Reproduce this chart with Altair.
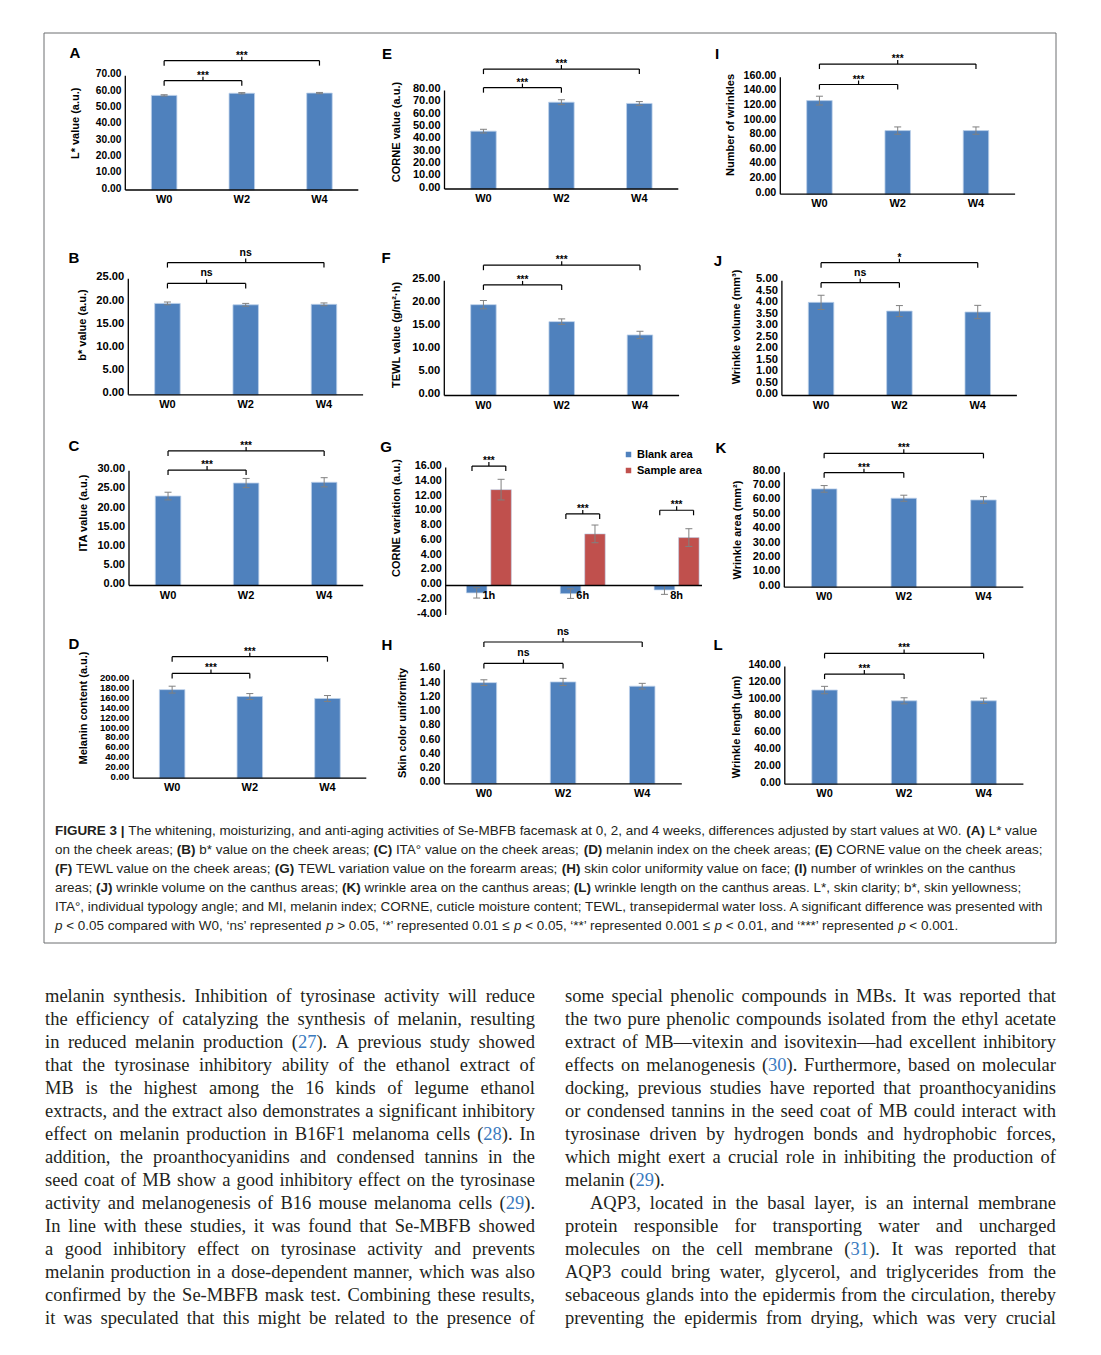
import re
import altair as alt
import pandas as pd

# ---------------- data ----------------
WEEKS = ["W0", "W2", "W4"]
HOURS = ["1h", "6h", "8h"]
GROUPS = ["Blank area", "Sample area"]
PAIRS = [(0, 1), (0, 2)]          # W0-W2 (inner bracket), W0-W4 (outer bracket)

A_mean = [58.0, 59.3, 59.4]; A_err = [0.4, 0.4, 0.4]; A_sig = ["***", "***"]; A_lev = [67.0, 79.3]
B_mean = [19.7, 19.4, 19.5]; B_err = [0.3, 0.3, 0.3]; B_sig = ["ns", "ns"]; B_lev = [24.0, 28.5]
C_mean = [23.4, 26.8, 27.0]; C_err = [1.0, 1.2, 1.2]; C_sig = ["***", "***"]; C_lev = [30.2, 35.2]
D_mean = [180.0, 166.0, 162.0]; D_err = [7.0, 6.0, 6.0]; D_sig = ["***", "***"]; D_lev = [213.0, 247.0]
E_mean = [47.0, 70.5, 69.5]; E_err = [1.5, 2.0, 1.5]; E_sig = ["***", "***"]; E_lev = [82.3, 97.4]
F_mean = [19.8, 16.1, 13.2]; F_err = [0.9, 0.6, 0.8]; F_sig = ["***", "***"]; F_lev = [24.1, 28.4]
G_blank = [-1.0, -1.1, -0.6]; G_blank_err = [0.7, 0.65, 0.6]
G_sample = [13.0, 7.0, 6.5]; G_sample_err = [1.4, 1.2, 1.2]
G_sig = ["***", "***", "***"]; G_lev = [16.2, 9.7, 10.2]
H_mean = [1.42, 1.43, 1.37]; H_err = [0.04, 0.05, 0.04]; H_sig = ["ns", "ns"]; H_lev = [1.69, 1.99]
I_mean = [128.0, 87.0, 87.0]; I_err = [6.0, 5.0, 5.0]; I_sig = ["***", "***"]; I_lev = [150.0, 178.0]
J_mean = [4.06, 3.68, 3.64]; J_err = [0.31, 0.24, 0.29]; J_sig = ["ns", "*"]; J_lev = [4.92, 5.79]
K_mean = [68.4, 61.9, 60.7]; K_err = [2.3, 2.1, 2.3]; K_sig = ["***", "***"]; K_lev = [79.7, 93.1]
L_mean = [112.0, 99.2, 99.2]; L_err = [4.4, 3.6, 3.2]; L_sig = ["***", "***"]; L_lev = [131.0, 155.6]

Y_TITLES = {
    "A": "L* value (a.u.)", "B": "b* value (a.u.)", "C": "ITA value (a.u.)",
    "D": "Melanin content (a.u.)", "E": "CORNE value (a.u.)", "F": "TEWL value (g/m\u00b2\u00b7h)",
    "G": "CORNE variation (a.u.)", "H": "Skin color uniformity", "I": "Number of wrinkles",
    "J": "Wrinkle volume (mm\u00b3)", "K": "Wrinkle area (mm\u00b2)", "L": "Wrinkle length (\u03bcm)",
}

# caption: ⟦...⟧ = bold, ⟨...⟩ = italic
CAPTION = [
    "⟦FIGURE 3 |⟧ The whitening, moisturizing, and anti-aging activities of Se-MBFB facemask at 0, 2, and 4 weeks, differences adjusted by start values at W0. ⟦(A)⟧ L* value",
    "on the cheek areas; ⟦(B)⟧ b* value on the cheek areas; ⟦(C)⟧ ITA\u00b0 value on the cheek areas; ⟦(D)⟧ melanin index on the cheek areas; ⟦(E)⟧ CORNE value on the cheek areas;",
    "⟦(F)⟧ TEWL value on the cheek areas; ⟦(G)⟧ TEWL variation value on the forearm areas; ⟦(H)⟧ skin color uniformity value on face; ⟦(I)⟧ number of wrinkles on the canthus",
    "areas; ⟦(J)⟧ wrinkle volume on the canthus areas; ⟦(K)⟧ wrinkle area on the canthus areas; ⟦(L)⟧ wrinkle length on the canthus areas. L*, skin clarity; b*, skin yellowness;",
    "ITA\u00b0, individual typology angle; and MI, melanin index; CORNE, cuticle moisture content; TEWL, transepidermal water loss. A significant difference was presented with",
    "⟨p⟩ < 0.05 compared with W0, \u2018ns\u2019 represented ⟨p⟩ > 0.05, \u2018*\u2019 represented 0.01 \u2264 ⟨p⟩ < 0.05, \u2018**\u2019 represented 0.001 \u2264 ⟨p⟩ < 0.01, and \u2018***\u2019 represented ⟨p⟩ < 0.001.",
]
BODY_LEFT = [
    "melanin synthesis. Inhibition of tyrosinase activity will reduce",
    "the efficiency of catalyzing the synthesis of melanin, resulting",
    "in reduced melanin production (27). A previous study showed",
    "that the tyrosinase inhibitory ability of the ethanol extract of",
    "MB is the highest among the 16 kinds of legume ethanol",
    "extracts, and the extract also demonstrates a significant inhibitory",
    "effect on melanin production in B16F1 melanoma cells (28). In",
    "addition, the proanthocyanidins and condensed tannins in the",
    "seed coat of MB show a good inhibitory effect on the tyrosinase",
    "activity and melanogenesis of B16 mouse melanoma cells (29).",
    "In line with these studies, it was found that Se-MBFB showed",
    "a good inhibitory effect on tyrosinase activity and prevents",
    "melanin production in a dose-dependent manner, which was also",
    "confirmed by the Se-MBFB mask test. Combining these results,",
    "it was speculated that this might be related to the presence of",
]
BODY_RIGHT = [
    "some special phenolic compounds in MBs. It was reported that",
    "the two pure phenolic compounds isolated from the ethyl acetate",
    "extract of MB\u2014vitexin and isovitexin\u2014had excellent inhibitory",
    "effects on melanogenesis (30). Furthermore, based on molecular",
    "docking, previous studies have reported that proanthocyanidins",
    "or condensed tannins in the seed coat of MB could interact with",
    "tyrosinase driven by hydrogen bonds and hydrophobic forces,",
    "which might exert a crucial role in inhibiting the production of",
    "melanin (29).",
    "AQP3, located in the basal layer, is an internal membrane",
    "protein responsible for transporting water and uncharged",
    "molecules on the cell membrane (31). It was reported that",
    "AQP3 could bring water, glycerol, and triglycerides from the",
    "sebaceous glands into the epidermis from the circulation, thereby",
    "preventing the epidermis from drying, which was very crucial",
]
BODY_RIGHT_RAGGED = [8]      # paragraph end
BODY_RIGHT_INDENT = [9]      # paragraph start

# ---------------- layout / style ----------------
FONT = "Liberation Sans"
SERIF = "Liberation Serif"
BLUE = "#4F81BD"
RED = "#C0504D"
EDGE = "#BCD0EA"
GRAY = "#808080"
INK = "#000000"
TXT = "#231F20"
CITE_BLUE = "#3B7BBF"
W, H = 1085, 1339
M = 8


def px(v):
    return v - M


LAYOUT = {
    "A": dict(letter=(75, 53), xr=(120.3, 363.3), yr=(190.0, 75.8), yd=(0, 70), step=10, title=(75.7, 123.3), fs=10.2),
    "B": dict(letter=(74, 258), xr=(123.3, 368.1), yr=(394.8, 278.8), yd=(0, 25), step=5, title=(83.3, 325), fs=11.2),
    "C": dict(letter=(74, 446), xr=(124.0, 368.2), yr=(585.5, 470.8), yd=(0, 30), step=5, title=(84, 513), fs=11.0),
    "D": dict(letter=(74, 644), xr=(128.3, 371.3), yr=(778.2, 679.8), yd=(0, 200), step=20, title=(84, 708), fs=9.6),
    "E": dict(letter=(387, 54), xr=(439.5, 683.3), yr=(189.0, 90.5), yd=(0, 80), step=10, title=(397.3, 132), fs=11.0),
    "F": dict(letter=(386, 258), xr=(439.3, 684.1), yr=(395.5, 280.8), yd=(0, 25), step=5, title=(396.7, 335), fs=11.2),
    "G": dict(letter=(386, 447), xr=(440.7, 707.0), xd=(-0.46, 2.27), yr=(615.0, 467.5), yd=(-4, 16),
              step=2, title=(397.3, 518), fs=10.8),
    "H": dict(letter=(387, 645), xr=(439.3, 686.8), yr=(783.8, 669.8), yd=(0, 1.6), step=0.2, title=(403, 723), fs=10.6),
    "I": dict(letter=(717, 54), xr=(775.3, 1020.1), yr=(194.2, 77.2), yd=(0, 160), step=20, title=(730.7, 125), fs=10.7),
    "J": dict(letter=(718, 261), xr=(776.9, 1021.9), yr=(395.5, 280.8), yd=(0, 5), step=0.5, title=(737.3, 327), fs=11.2),
    "K": dict(letter=(721, 448), xr=(779.3, 1028.3), yr=(587.2, 472.2), yd=(0, 80), step=10, title=(738.3, 530), fs=11.0),
    "L": dict(letter=(718, 645), xr=(779.8, 1028.4), yr=(784.2, 666.5), yd=(0, 140), step=20, title=(737.3, 727), fs=10.6),
}

# approximate advance widths (1/1000 em) used to lay out running text
TIMES = dict(zip("abcdefghijklmnopqrstuvwxyz",
                 [444, 500, 444, 500, 444, 333, 500, 500, 278, 278, 500, 278, 778, 500, 500, 500, 500, 333, 389,
                  278, 500, 500, 722, 500, 500, 444]))
TIMES.update(zip("ABCDEFGHIJKLMNOPQRSTUVWXYZ",
                 [722, 667, 667, 722, 611, 556, 722, 722, 333, 389, 722, 611, 889, 722, 722, 556, 722, 667, 556,
                  611, 722, 722, 944, 722, 722, 611]))
TIMES.update({c: 500 for c in "0123456789"})
TIMES.update({" ": 250, ",": 250, ".": 250, ";": 278, ":": 278, "(": 333, ")": 333, "-": 333, "\u2014": 1000})

HELV = dict(zip("abcdefghijklmnopqrstuvwxyz",
                [556, 556, 500, 556, 556, 278, 556, 556, 222, 222, 500, 222, 833, 556, 556, 556, 556, 333, 500,
                 278, 556, 500, 722, 500, 500, 500]))
HELV.update(zip("ABCDEFGHIJKLMNOPQRSTUVWXYZ",
                [667, 667, 722, 722, 667, 611, 778, 722, 278, 500, 667, 556, 833, 722, 778, 667, 778, 722, 667,
                 611, 722, 667, 944, 667, 667, 611]))
HELV.update({c: 556 for c in "0123456789"})
HELV.update({" ": 278, ",": 278, ".": 278, ";": 278, ":": 278, "(": 333, ")": 333, "-": 333, "*": 389,
             "<": 584, ">": 584, "\u2264": 549, "\u00b0": 400, "\u2018": 222, "\u2019": 222, "|": 260})
HELVB = dict(HELV)
HELVB.update(zip("ABCDEFGHIJKLMNOPQRSTUVWXYZ",
                 [722, 722, 722, 722, 667, 611, 778, 722, 278, 556, 722, 611, 833, 722, 778, 667, 778, 722, 667,
                  611, 722, 667, 944, 667, 667, 611]))
HELVB.update({"|": 280})


def text_width(s, table, size):
    return sum(table.get(ch, 500) for ch in s) / 1000.0 * size


def tick_values(lo, hi, step):
    n = int(round((hi - lo) / step))
    return [round(lo + k * step, 4) for k in range(n + 1)]


def scales(L, n):
    xd = L.get("xd", (-0.5, n - 0.5))
    xs = alt.Scale(domain=list(xd), range=[px(L["xr"][0]), px(L["xr"][1])], nice=False, zero=False)
    ys = alt.Scale(domain=list(L["yd"]), range=[px(L["yr"][0]), px(L["yr"][1])], nice=False, zero=False)
    return xs, ys, xd


def axis_layers(key, L, cats, xs, ys, xd):
    X = lambda f: alt.X(f, scale=xs, axis=None)
    Y = lambda f: alt.Y(f, scale=ys, axis=None)
    ticks = tick_values(L["yd"][0], L["yd"][1], L["step"])
    ylab = alt.Chart(pd.DataFrame({"v": ticks, "x0": [xd[0]] * len(ticks)})).transform_calculate(
        lab="replace(format(datum.v, '.2f'), '\u2212', '-')").mark_text(
        font=FONT, fontSize=L["fs"], fontWeight="bold", align="right", baseline="middle", dx=-4, dy=-1.5,
        color=INK).encode(x=X("x0:Q"), y=Y("v:Q"), text="lab:N")
    ydom = alt.Chart(pd.DataFrame({"x0": [xd[0]], "lo": [L["yd"][0]], "hi": [L["yd"][1]]})).mark_rule(
        color=INK, strokeWidth=1.3).encode(x=X("x0:Q"), y=Y("lo:Q"), y2="hi:Q")
    xdom = alt.Chart(pd.DataFrame({"a": [xd[0]], "b": [xd[1]], "z": [0]})).mark_rule(
        color=INK, strokeWidth=1.3).encode(x=X("a:Q"), x2="b:Q", y=Y("z:Q"))
    xlab = alt.Chart(pd.DataFrame({"i": list(range(len(cats))), "c": cats, "z": [0] * len(cats)})).mark_text(
        font=FONT, fontSize=11, fontWeight="bold", align="center", baseline="top", dy=4, color=INK).encode(
        x=X("i:Q"), y=Y("z:Q"), text="c:N")
    one = pd.DataFrame({"t": [Y_TITLES[key]]})
    ytitle = alt.Chart(one).mark_text(font=FONT, fontSize=11, fontWeight="bold", angle=270, align="center",
                                      baseline="middle", color=INK).encode(
        x=alt.value(px(L["title"][0])), y=alt.value(px(L["title"][1])), text="t:N")
    letter = alt.Chart(pd.DataFrame({"t": [key]})).mark_text(
        font=FONT, fontSize=15, fontWeight="bold", align="center", baseline="middle", color=INK).encode(
        x=alt.value(px(L["letter"][0])), y=alt.value(px(L["letter"][1])), text="t:N")
    return [ydom, xdom, ylab, xlab, ytitle, letter]


def bracket_layers(bdf, xs, ys):
    bb = alt.Chart(bdf)
    X = lambda f: alt.X(f, scale=xs, axis=None)
    Y = lambda f: alt.Y(f, scale=ys, axis=None)
    hline = bb.mark_rule(color=INK, strokeWidth=1.2).encode(x=X("s:Q"), x2="t:Q", y=Y("lev:Q"))
    ends = bb.transform_fold(["s", "t"], as_=["w", "xe"]).mark_tick(
        orient="vertical", size=5, thickness=1.2, yOffset=2.5, color=INK, opacity=1).encode(x=X("xe:Q"), y=Y("lev:Q"))
    mid = bb.transform_calculate(m="(datum.s + datum.t) / 2").mark_tick(
        orient="vertical", size=4, thickness=1.2, yOffset=-2, color=INK, opacity=1).encode(x=X("m:Q"), y=Y("lev:Q"))
    stars = bb.transform_calculate(m="(datum.s + datum.t) / 2").transform_filter("datum.lab != 'ns'").mark_text(
        font=FONT, fontSize=10, fontWeight="bold", baseline="alphabetic", dy=-2, color=INK).encode(
        x=X("m:Q"), y=Y("lev:Q"), text="lab:N")
    ns = bb.transform_calculate(m="(datum.s + datum.t) / 2").transform_filter("datum.lab == 'ns'").mark_text(
        font=FONT, fontSize=10.5, fontWeight="bold", baseline="alphabetic", dy=-7, color=INK).encode(
        x=X("m:Q"), y=Y("lev:Q"), text="lab:N")
    return [hline, ends, mid, stars, ns]


def make_panel(key, means, errs, sigs, levels):
    L = LAYOUT[key]
    cats = WEEKS
    n = len(cats)
    xs, ys, xd = scales(L, n)
    X = lambda f: alt.X(f, scale=xs, axis=None)
    Y = lambda f: alt.Y(f, scale=ys, axis=None)
    df = pd.DataFrame({"i": list(range(n)), "v": means, "e": errs})
    bars = alt.Chart(df).mark_bar(size=25.5, orient="vertical", color=BLUE, stroke=EDGE, strokeWidth=0.8).encode(
        x=X("i:Q"), y=alt.Y("v:Q", scale=ys, axis=None, stack=None))
    eb = alt.Chart(df).transform_calculate(lo="datum.v - datum.e", hi="datum.v + datum.e")
    err = eb.mark_rule(color=GRAY, strokeWidth=1).encode(x=X("i:Q"), y=Y("lo:Q"), y2="hi:Q")
    caps = eb.transform_fold(["lo", "hi"], as_=["which", "yv"]).mark_tick(
        orient="horizontal", size=7, thickness=1, color=GRAY, opacity=1).encode(x=X("i:Q"), y=Y("yv:Q"))
    bdf = pd.DataFrame({"s": [p[0] for p in PAIRS], "t": [p[1] for p in PAIRS], "lev": levels, "lab": sigs})
    return alt.layer(bars, err, caps, *bracket_layers(bdf, xs, ys), *axis_layers(key, L, cats, xs, ys, xd))


def make_panel_g():
    key = "G"
    L = LAYOUT[key]
    cats = HOURS
    xs, ys, xd = scales(L, len(cats))
    X = lambda f: alt.X(f, scale=xs, axis=None)
    Y = lambda f: alt.Y(f, scale=ys, axis=None)
    df = pd.DataFrame({
        "i": list(range(len(cats))) * 2,
        "g": [GROUPS[0]] * len(cats) + [GROUPS[1]] * len(cats),
        "v": G_blank + G_sample,
        "e": G_blank_err + G_sample_err,
    })
    base = alt.Chart(df).transform_calculate(xp="datum.i + (datum.g == 'Blank area' ? -0.13 : 0.13)",
                                             lo="datum.v - datum.e", hi="datum.v + datum.e")
    bars = base.mark_bar(size=20.5, orient="vertical", stroke=EDGE, strokeWidth=0.6).encode(
        x=X("xp:Q"),
        y=alt.Y("v:Q", scale=ys, axis=None, stack=None),
        color=alt.Color("g:N", scale=alt.Scale(domain=GROUPS, range=[BLUE, RED]),
                        legend=alt.Legend(orient="none", legendX=px(623), legendY=px(449), title=None,
                                          symbolType="square", symbolSize=30, symbolStrokeWidth=0,
                                          labelFont=FONT, labelFontSize=11, labelFontWeight="bold",
                                          labelColor=INK, rowPadding=4, labelOffset=3, padding=0)))
    err = base.mark_rule(color=GRAY, strokeWidth=1).encode(x=X("xp:Q"), y=Y("lo:Q"), y2="hi:Q")
    caps = base.transform_fold(["lo", "hi"], as_=["which", "yv"]).mark_tick(
        orient="horizontal", size=7, thickness=1, color=GRAY, opacity=1).encode(x=X("xp:Q"), y=Y("yv:Q"))
    bdf = pd.DataFrame({"s": [i - 0.18 for i in range(len(cats))], "t": [i + 0.18 for i in range(len(cats))],
                        "lev": G_lev, "lab": G_sig})
    return alt.layer(bars, err, caps, *bracket_layers(bdf, xs, ys), *axis_layers(key, L, cats, xs, ys, xd))


panels = [
    make_panel("A", A_mean, A_err, A_sig, A_lev),
    make_panel("B", B_mean, B_err, B_sig, B_lev),
    make_panel("C", C_mean, C_err, C_sig, C_lev),
    make_panel("D", D_mean, D_err, D_sig, D_lev),
    make_panel("E", E_mean, E_err, E_sig, E_lev),
    make_panel("F", F_mean, F_err, F_sig, F_lev),
    make_panel_g(),
    make_panel("H", H_mean, H_err, H_sig, H_lev),
    make_panel("I", I_mean, I_err, I_sig, I_lev),
    make_panel("J", J_mean, J_err, J_sig, J_lev),
    make_panel("K", K_mean, K_err, K_sig, K_lev),
    make_panel("L", L_mean, L_err, L_sig, L_lev),
]

frame = alt.Chart(pd.DataFrame({"a": [0]})).mark_rect(fillOpacity=0, stroke="#6D6E71", strokeWidth=1).encode(
    x=alt.value(px(44)), x2=alt.value(px(1056)), y=alt.value(px(33)), y2=alt.value(px(943)))

# ---- caption: runs of regular / bold / italic text laid out left to right ----
CAP_SIZE = 13.45
CAP_X, CAP_Y, CAP_LH = 55, 835, 19
cap_rows = []
for k, line in enumerate(CAPTION):
    x = CAP_X
    for part in re.split(r"(⟦[^⟧]*⟧|⟨[^⟩]*⟩)", line):
        if not part:
            continue
        if part.startswith("⟦"):
            kind, txt, table = "bold", part[1:-1], HELVB
        elif part.startswith("⟨"):
            kind, txt, table = "italic", part[1:-1], HELV
        else:
            kind, txt, table = "regular", part, HELV
        lead = len(txt) - len(txt.lstrip(" "))
        x += text_width(" " * lead, table, CAP_SIZE)
        body = txt.lstrip(" ")
        if body:
            cap_rows.append({"t": body, "x": px(x), "y": px(CAP_Y + k * CAP_LH), "k": kind})
        x += text_width(body, table, CAP_SIZE)
cap_df = pd.DataFrame(cap_rows)


def cap_layer(kind, weight, style):
    return alt.Chart(cap_df).transform_filter(alt.datum.k == kind).mark_text(
        font=FONT, fontSize=CAP_SIZE, fontWeight=weight, fontStyle=style, align="left", baseline="alphabetic",
        color=TXT).encode(x=alt.X("x:Q", scale=None), y=alt.Y("y:Q", scale=None), text="t:N")


# ---- body text: justified columns, citation numbers in blue ----
BODY_SIZE = 18.5
BODY_Y, BODY_LH = 1002, 23
CITE = re.compile(r"^(\()(\d+)(\).*)$")


def body_rows(lines, x0, x1, ragged=(), indents=(), indent=25):
    rows = []
    for k, line in enumerate(lines):
        words = line.split(" ")
        start = x0 + (indent if k in indents else 0)
        widths = [text_width(w, TIMES, BODY_SIZE) for w in words]
        if k in ragged or len(words) < 2:
            gap = text_width(" ", TIMES, BODY_SIZE)
        else:
            gap = (x1 - start - sum(widths)) / (len(words) - 1)
        x = start
        y = BODY_Y + k * BODY_LH
        for w, wd in zip(words, widths):
            m = CITE.match(w)
            segs = [(m.group(1), TXT), (m.group(2), CITE_BLUE), (m.group(3), TXT)] if m else [(w, TXT)]
            xx = x
            for s, col in segs:
                rows.append({"t": s, "x": px(xx), "y": px(y), "c": col})
                xx += text_width(s, TIMES, BODY_SIZE)
            x += wd + gap
    return rows


body_df = pd.DataFrame(body_rows(BODY_LEFT, 45, 535) +
                       body_rows(BODY_RIGHT, 565, 1056, BODY_RIGHT_RAGGED, BODY_RIGHT_INDENT))
body = alt.Chart(body_df).mark_text(font=SERIF, fontSize=BODY_SIZE, align="left", baseline="alphabetic").encode(
    x=alt.X("x:Q", scale=None), y=alt.Y("y:Q", scale=None), text="t:N", color=alt.Color("c:N", scale=None))

chart = alt.layer(
    frame, *panels,
    cap_layer("regular", "normal", "normal"), cap_layer("bold", "bold", "normal"),
    cap_layer("italic", "normal", "italic"), body,
).resolve_scale(
    x="independent", y="independent", color="independent"
).properties(
    width=W, height=H, autosize=alt.AutoSizeParams(type="none"), padding=0, background="white"
).configure_view(stroke=None)

chart.save("out.html", embed_options={"renderer": "svg", "actions": False})
